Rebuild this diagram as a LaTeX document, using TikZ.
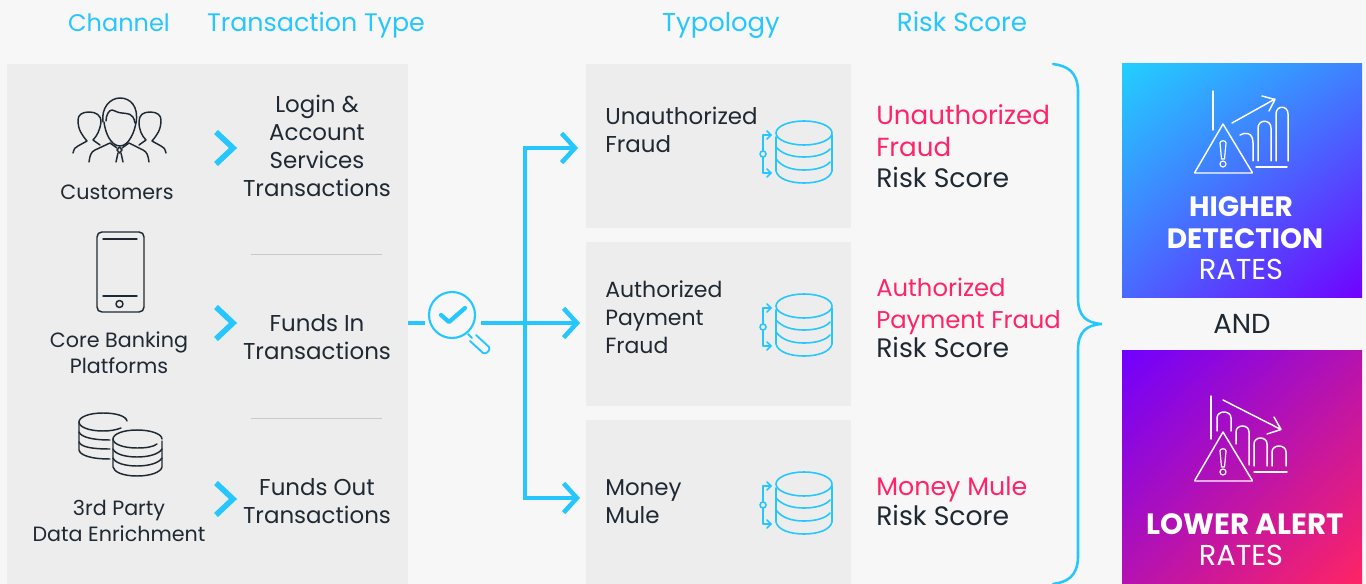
\documentclass[tikz,border=0pt]{standalone}
\usepackage{fontspec}
\setmainfont{Poppins}
\usetikzlibrary{arrows.meta,shadings}
\definecolor{bgc}{HTML}{F7F7F7}
\definecolor{panelc}{HTML}{EDEDED}
\definecolor{cy}{HTML}{26C6FF}
\definecolor{ink}{HTML}{1F2933}
\definecolor{pink}{HTML}{FF2468}
\definecolor{sepc}{HTML}{C9C9C9}
\definecolor{gA}{HTML}{22CFFF}
\definecolor{gB}{HTML}{7000FF}
\definecolor{gC}{HTML}{FF2464}
\definecolor{gAB}{HTML}{3F80FF}
\definecolor{gABb}{HTML}{4A68FF}
\definecolor{gBC}{HTML}{B512B0}
\newcommand\fs[1]{\fontsize{#1}{21}\selectfont}
\tikzset{
 panel/.style={fill=panelc,draw=none},
 hdr/.style={text=cy,font=\fs{19},anchor=base,inner sep=0},
 body/.style={text=ink,font=\fontsize{17.2}{21}\selectfont,align=center,anchor=center,inner sep=0},
 small/.style={text=ink,font=\fontsize{15.5}{19.6}\selectfont,align=center,anchor=center,inner sep=0},
 typo/.style={text=ink,font=\fontsize{17.2}{21}\selectfont,align=left,anchor=west,inner sep=0},
 riskpink/.style={text=pink,align=left,anchor=base west,inner sep=0},
 riskink/.style={text=ink,font=\fs{20},align=left,anchor=base west,inner sep=0},
 whitebold/.style={text=white,font=\fs{21}\bfseries,align=center,anchor=base,inner sep=0},
 whitereg/.style={text=white,font=\fs{21.6},align=center,anchor=base,inner sep=0},
 iconk/.style={draw=ink,line width=1.1pt,line cap=round,line join=round},
 iconc/.style={draw=cy,line width=1.2pt,line cap=round,line join=round},
 iconw/.style={draw=white,line width=1.1pt,line cap=round,line join=round},
 chev/.style={draw=cy,line width=4.2pt,line join=miter},
 conn/.style={draw=cy,line width=2.8pt},
 tipconn/.style={draw=cy,line width=2.8pt,-{Straight Barb[length=10pt,width=22pt,line width=3.4pt]}},
}
\newcommand\dbicon[1]{%
 \begin{scope}[shift={(0,#1)}]
  \draw[iconc] (804,133) ellipse [x radius=28,y radius=12];
  \draw[iconc] (776,137) -- (776,171) .. controls (778,179) and (790,183) .. (804,183) .. controls (818,183) and (830,179) .. (832,171) -- (832,135);
  \draw[iconc] (776,147) .. controls (782,154) and (792,157) .. (804,157) .. controls (816,157) and (826,154) .. (830,149);
  \draw[iconc] (776,159) .. controls (782,167) and (792,170) .. (804,170) .. controls (816,170) and (826,167) .. (830,162);
  \draw[iconc] (771,135) -- (763,135) -- (763,151) (763,157) -- (763,173) -- (771,173);
  \draw[iconc] (767,131) -- (771,135) -- (767,139) (767,169) -- (771,173) -- (767,177);
  \draw[iconc] (763,154) circle [radius=3];
 \end{scope}}
\newcommand\warnicon[1]{%
 \begin{scope}[shift={(0,#1)}]
  \draw[iconw] (1223,124) -- (1252,172) .. controls (1253,173) and (1252,173) .. (1251,173) -- (1196,173) .. controls (1195,173) and (1194,173) .. (1195,172) -- cycle;
  \draw[iconw,line width=.9pt] (1220,143) .. controls (1220,140) and (1226,140) .. (1226,143) -- (1224.5,159) -- (1221.5,159) -- cycle;
  \draw[iconw,line width=.9pt] (1223,164) circle [radius=3];
 \end{scope}}
\begin{document}
\begin{tikzpicture}[x=0.75pt,y=-0.75pt]
\useasboundingbox (0,0) rectangle (1366,584);
\fill[bgc] (0,0) rectangle (1366,584);
% panels
\fill[panel] (7,64) rectangle (408,584);
\fill[panel] (586,64) rectangle (851,228);
\fill[panel] (586,242) rectangle (851,406);
\fill[panel] (586,420) rectangle (851,584);
% gradient boxes
\shade[upper left=gA,upper right=gAB,lower left=gABb,lower right=gB] (1122,64) rectangle (1362,298);
\shade[upper left=gB,upper right=gBC,lower left=gBC,lower right=gC] (1122,350) rectangle (1362,584);
% headers
\node[hdr,font=\fs{18}] (hA) at (119,32) {Channel};
\node[hdr] (hB) at (316,32) {Transaction Type};
\node[hdr,font=\fs{19.4}] (hC) at (721,32) {Typology};
\node[hdr,font=\fs{19.6}] (hD) at (962,32) {Risk Score};
% channel labels
\node[small] (cA) at (117,192) {Customers};
\node[small] (cB) at (119,353) {Core Banking\\Platforms};
\node[small] (cC) at (119,521) {3rd Party\\Data Enrichment};
% transaction labels
\node[body] (tA) at (317,146) {Login \&\\Account\\Services\\Transactions};
\node[body] (tB) at (317,337) {Funds In\\Transactions};
\node[body] (tC) at (317,501) {Funds Out\\Transactions};
\draw[sepc] (251,254) -- (382,254);
\draw[sepc] (251,418) -- (382,418);
% chevrons
\draw[chev] (216,132) -- (233,148) -- (216,164);
\draw[chev] (216,307) -- (233,323) -- (216,339);
\draw[chev] (216,483) -- (233,499) -- (216,515);
% typology labels
\node[typo] (yA) at (605,130) {Unauthorized\\Fraud};
\node[typo,font=\fontsize{16.5}{21}\selectfont] (yB) at (605,317) {Authorized\\Payment\\Fraud};
\node[typo] (yC) at (605,502) {Money\\Mule};
\dbicon{0}\dbicon{173}\dbicon{351}
% risk labels
\node[riskpink,font=\fontsize{19.6}{24}\selectfont] (rA) at (876,157) {Unauthorized\\Fraud};
\node[riskink] (rAb) at (876,188) {Risk Score};
\node[riskpink,font=\fontsize{18.2}{24}\selectfont] (rB) at (876,329) {Authorized\\Payment Fraud};
\node[riskink] (rBb) at (876,358) {Risk Score};
\node[riskpink,font=\fs{19}] (rC) at (876,495) {Money Mule};
\node[riskink] (rCb) at (876,525) {Risk Score};
% connectors
\coordinate (panelEdge) at (408,323);
\coordinate (lensL) at (425,323);
\coordinate (lensR) at (481,323);
\coordinate (trunk) at (525,323);
\coordinate (topTip) at (578,148);
\coordinate (midTip) at (580,323);
\coordinate (botTip) at (580,498);
\draw[conn] (panelEdge) -- (lensL);
\draw[tipconn] (lensR) -- (midTip);
\draw[tipconn] (trunk |- botTip) -- (trunk |- topTip) -- (topTip);
\draw[tipconn] (trunk) -- (trunk |- botTip) -- (botTip);
% magnifier
\draw[iconc,line width=1.6pt] (452,315) circle [radius=23];
\draw[draw=cy,line width=3.2pt,line cap=round,line join=round] (441,315) -- (449,322) -- (465,308);
\draw[iconc,line width=1.4pt] (468,334) -- (472,338);
\draw[iconc,line width=1.4pt] (476,335) -- (489,347) .. controls (491,350) and (486,355) .. (483,353) -- (470,341);
% brace
\draw[draw=cy,line width=1.9pt,line cap=round] (1053,64) .. controls (1068,66) and (1077,72) .. (1078,90) -- (1078,298) .. controls (1078,316) and (1086,323) .. (1102,324) .. controls (1086,325) and (1078,332) .. (1078,350) -- (1078,558) .. controls (1077,576) and (1068,582) .. (1053,584);
% customers icon
\begin{scope}
\draw[iconk] (103,122) .. controls (101,108) and (110,98) .. (120,98) .. controls (130,98) and (139,106) .. (136,123);
\draw[iconk] (106,121) .. controls (106,115) and (109,110) .. (112,110) .. controls (116,111) and (118,113) .. (122,113) .. controls (127,114) and (133,112) .. (135,123);
\draw[iconk] (104,122) .. controls (105,131) and (110,146) .. (120,146) .. controls (129,146) and (135,131) .. (136,122);
\draw[iconk] (89,162) .. controls (90,155) and (91,152) .. (95,150) -- (110,143) -- (117,148);
\draw[iconk] (149,162) .. controls (148,155) and (147,152) .. (143,150) -- (129,143) -- (122,148);
\draw[iconk] (119.5,147) -- (122,150) -- (119.5,153) -- (117,150) -- cycle;
\draw[iconk] (118,153) -- (116,162) (121,153) -- (123,162);
\draw[iconk] (73,153) .. controls (74,149) and (75,147) .. (78,146) -- (87,141) .. controls (82,135) and (78,130) .. (78,120) .. controls (78,115) and (82,112) .. (89,112) .. controls (96,112) and (101,115) .. (101,122) .. controls (100,130) and (97,136) .. (93,140) -- (100,145);
\draw[iconk] (166,153) .. controls (165,149) and (164,147) .. (161,146) -- (152,141) .. controls (157,135) and (161,130) .. (161,120) .. controls (161,115) and (157,112) .. (150,112) .. controls (143,112) and (139,115) .. (139,122) .. controls (139,130) and (142,136) .. (146,140) -- (139,145);
\end{scope}
% phone icon
\draw[iconk] (97,237) .. controls (97,234) and (99,232) .. (102,232) -- (139,232) .. controls (142,232) and (144,234) .. (144,237) -- (144,307) .. controls (144,310) and (142,312) .. (139,312) -- (102,312) .. controls (99,312) and (97,310) .. (97,307) -- cycle;
\draw[iconk] (103,239) -- (137,239) (103,296) -- (137,296);
\draw[iconk] (119.5,304) circle [radius=3.5];
% coins icon
\draw[iconk] (127,421) .. controls (126,416) and (116,413) .. (103,413) .. controls (89,413) and (79,417) .. (79,422) .. controls (79,427) and (89,431) .. (103,431) .. controls (110,431) and (116,430) .. (121,428);
\draw[iconk] (79,422) -- (79,450) .. controls (80,455) and (90,459) .. (110,459);
\draw[iconk] (79,432) .. controls (81,437) and (92,440) .. (110,440);
\draw[iconk] (79,442) .. controls (81,447) and (92,449) .. (110,449);
\draw[iconk] (137,430) .. controls (123,430) and (113,434) .. (113,439) .. controls (113,444) and (123,448) .. (137,448) .. controls (146,448) and (153,447) .. (157,444);
\draw[iconk] (137,430) .. controls (151,430) and (162,434) .. (162,439);
\draw[iconk] (162,441) -- (162,467) .. controls (161,472) and (151,476) .. (137,476) .. controls (123,476) and (114,472) .. (113,467) -- (113,439);
\draw[iconk] (113,449) .. controls (115,454) and (125,457) .. (137,457) .. controls (149,457) and (159,454) .. (162,449);
\draw[iconk] (113,458) .. controls (115,463) and (125,466) .. (137,466) .. controls (149,466) and (159,463) .. (162,458);
% higher-detection icon
\warnicon{0}
\draw[iconw] (1213,91) -- (1213,130);
\draw[iconw] (1232,123) -- (1275,99) (1262,96) -- (1275,99.5) -- (1269,111);
\draw[iconw] (1240,135) .. controls (1245,132) and (1253,132) .. (1253,143) -- (1253,161);
\draw[iconw] (1258,161) -- (1258,128) .. controls (1258,119) and (1271,119) .. (1271,128) -- (1271,161);
\draw[iconw] (1276,161) -- (1276,114) .. controls (1276,105) and (1288,105) .. (1288,114) -- (1288,161);
\draw[iconw] (1256,167) -- (1287,167);
% lower-alert icon
\warnicon{308}
\draw[iconw] (1211,396) -- (1211,439);
\draw[iconw] (1223,400) -- (1280,429) (1274,417) -- (1281,429.5) -- (1267,434);
\draw[iconw] (1217,431) -- (1217,418) .. controls (1217,410) and (1231,410) .. (1231,418) -- (1231,431);
\draw[iconw] (1236,444) -- (1236,432) .. controls (1236,424) and (1249,424) .. (1249,432) -- (1249,465);
\draw[iconw] (1254,466) -- (1254,444) .. controls (1254,436) and (1267,436) .. (1267,444) -- (1267,466);
\draw[iconw] (1272,466) -- (1272,452) .. controls (1272,444) and (1286,444) .. (1286,452) -- (1286,466);
\draw[iconw] (1254,472) -- (1287,472);
% box texts
\node[whitebold] (bA) at (1241,217) {HIGHER};
\node[whitebold] (bB) at (1245,249) {DETECTION};
\node[whitereg] (bC) at (1241,280) {RATES};
\node[text=ink,font=\fs{20.6},inner sep=0,anchor=base] (andN) at (1242,334) {AND};
\node[whitebold,font=\fs{22}\bfseries] (bD) at (1245,534) {LOWER ALERT};
\node[whitereg] (bE) at (1241,565) {RATES};
\end{tikzpicture}
\end{document}
